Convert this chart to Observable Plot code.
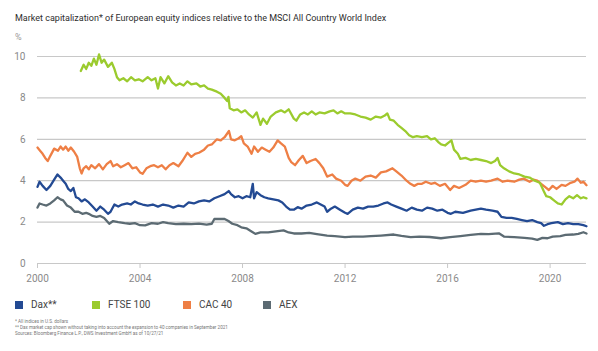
<!DOCTYPE html>
<html>
<head>
<meta charset="utf-8">
<script src="https://cdn.jsdelivr.net/npm/d3@7"></script>
<script src="https://cdn.jsdelivr.net/npm/@observablehq/plot@0.6"></script>
<style>
  html, body { margin: 0; padding: 0; background: #fff; }
  #wrap { position: relative; width: 598px; height: 351px; font-family: Roboto, "Liberation Sans", Arial, sans-serif; color: #333; }
  .abs { position: absolute; white-space: nowrap; }
  #title { left: 15px; top: 13px; font-size: 9px; color: #2e2e2e; }
  #unit { left: 15px; top: 32px; font-size: 9px; color: #999; }
  #chart { position: absolute; left: 0; top: 44px; }
  .lg { position: absolute; top: 299px; font-size: 10px; color: #444; display: flex; align-items: center; }
  .lg i { display: inline-block; width: 8px; height: 8px; margin-right: 8px; }
  .fn { left: 15px; font-size: 4.6px; color: #777; }
</style>
</head>
<body>
<div id="wrap">
  <div id="title" class="abs">Market capitalization* of European equity indices relative to the MSCI All Country World Index</div>
  <div id="unit" class="abs">%</div>
  <div id="chart"></div>
  <div id="legend"></div>
  <div class="abs fn" style="top:319px">* All indices in U.S. dollars</div>
  <div class="abs fn" style="top:325px">** Dax market cap shown without taking into account the expansion to 40 companies in September 2021</div>
  <div class="abs fn" style="top:331px">Sources: Bloomberg Finance L.P., DWS Investment GmbH as of 10/27/21</div>
</div>
<script>
const seriesNames = ["Dax**", "FTSE 100", "CAC 40", "AEX"];
const seriesColors = ["#234a93", "#9bcb2e", "#ee7f45", "#5c6b73"];
const xTicks = [2000, 2004, 2008, 2012, 2016, 2020];
const yTicks = [0, 2, 4, 6, 8, 10];

const daxYears = [2000.0,2000.08,2000.2,2000.35,2000.5,2000.65,2000.78,2000.9,2001.0,2001.1,2001.2,2001.3,2001.4,2001.5,2001.6,2001.72,2001.85,2002.0,2002.15,2002.3,2002.45,2002.6,2002.75,2002.85,2003.0,2003.15,2003.3,2003.5,2003.64,2003.8,2003.95,2004.1,2004.3,2004.5,2004.7,2004.9,2005.1,2005.3,2005.5,2005.7,2005.9,2006.1,2006.3,2006.5,2006.7,2006.9,2007.1,2007.3,2007.46,2007.55,2007.7,2007.85,2008.0,2008.15,2008.3,2008.4,2008.45,2008.55,2008.7,2008.85,2009.0,2009.2,2009.4,2009.55,2009.7,2009.85,2010.0,2010.15,2010.3,2010.5,2010.7,2010.9,2011.05,2011.2,2011.3,2011.45,2011.6,2011.8,2012.0,2012.1,2012.3,2012.5,2012.7,2012.9,2013.1,2013.3,2013.5,2013.66,2013.8,2014.0,2014.2,2014.4,2014.6,2014.8,2015.0,2015.2,2015.4,2015.6,2015.8,2016.0,2016.13,2016.3,2016.6,2016.9,2017.1,2017.3,2017.5,2017.75,2017.95,2018.1,2018.3,2018.5,2018.7,2018.9,2019.1,2019.3,2019.5,2019.65,2019.76,2019.9,2020.05,2020.3,2020.5,2020.7,2020.9,2021.1,2021.3,2021.42];
const daxValues = [3.7,3.95,3.75,3.55,3.75,4.05,4.3,4.15,4.0,3.85,3.6,3.5,3.65,3.2,3.15,3.0,3.1,2.95,2.75,2.55,2.75,2.6,2.4,2.5,2.85,2.75,2.85,2.9,2.85,3.0,2.9,2.85,2.8,2.85,2.75,2.85,2.8,2.7,2.8,2.75,2.95,2.9,3.0,3.05,3.0,3.15,3.25,3.35,3.5,3.35,3.2,3.25,3.15,3.25,3.2,3.85,3.15,3.45,3.3,3.2,3.15,3.1,3.05,2.95,2.75,2.6,2.6,2.72,2.65,2.8,2.85,2.95,2.85,2.75,2.5,2.65,2.75,2.6,2.45,2.4,2.6,2.7,2.65,2.75,2.75,2.8,2.9,2.95,2.85,2.75,2.65,2.55,2.7,2.6,2.55,2.7,2.65,2.55,2.6,2.45,2.4,2.5,2.45,2.55,2.6,2.65,2.6,2.55,2.5,2.25,2.2,2.2,2.15,2.1,2.05,2.1,2.0,1.95,1.82,1.9,1.95,2.0,1.9,1.95,1.9,1.9,1.85,1.8];

const ftseYears = [2001.69,2001.8,2001.9,2002.0,2002.1,2002.2,2002.3,2002.4,2002.5,2002.6,2002.75,2002.9,2003.0,2003.1,2003.2,2003.35,2003.5,2003.65,2003.8,2003.95,2004.1,2004.3,2004.45,2004.6,2004.7,2004.8,2004.95,2005.1,2005.25,2005.4,2005.55,2005.7,2005.85,2006.0,2006.2,2006.35,2006.5,2006.65,2006.8,2007.0,2007.15,2007.3,2007.4,2007.45,2007.5,2007.65,2007.8,2007.95,2008.1,2008.25,2008.4,2008.55,2008.7,2008.8,2008.95,2009.1,2009.3,2009.5,2009.65,2009.8,2010.0,2010.1,2010.25,2010.4,2010.55,2010.7,2010.85,2011.0,2011.2,2011.4,2011.55,2011.7,2011.85,2012.0,2012.2,2012.4,2012.6,2012.8,2013.0,2013.2,2013.4,2013.55,2013.65,2013.75,2013.9,2014.05,2014.2,2014.35,2014.5,2014.65,2014.8,2015.0,2015.2,2015.35,2015.5,2015.65,2015.75,2015.9,2016.05,2016.15,2016.25,2016.4,2016.5,2016.7,2016.9,2017.1,2017.3,2017.5,2017.7,2017.85,2017.95,2018.05,2018.2,2018.4,2018.6,2018.8,2019.0,2019.2,2019.4,2019.6,2019.75,2019.85,2020.0,2020.15,2020.3,2020.45,2020.6,2020.75,2020.9,2021.05,2021.2,2021.3,2021.42];
const ftseValues = [9.3,9.6,9.4,9.7,9.55,9.9,9.6,10.1,9.7,9.85,9.5,9.7,9.4,9.0,8.85,8.95,8.8,9.0,8.85,8.9,8.8,9.0,8.85,8.95,8.45,9.0,8.7,9.05,8.75,8.6,8.7,8.6,8.8,8.65,8.7,8.55,8.6,8.45,8.4,8.3,8.2,8.0,7.85,8.05,7.5,7.4,7.45,7.3,7.4,7.2,7.05,7.3,6.7,7.0,6.75,7.1,7.3,7.4,7.3,7.45,7.0,6.9,7.2,7.3,7.2,7.35,7.2,7.3,7.25,7.35,7.4,7.25,7.35,7.25,7.25,7.2,7.1,7.05,6.95,7.1,7.05,7.15,7.25,6.95,6.9,6.7,6.55,6.4,6.2,6.1,6.15,6.1,6.15,6.0,6.05,5.85,5.75,5.7,5.85,5.95,5.5,5.3,5.05,5.1,5.0,5.05,5.0,4.95,4.85,4.95,5.1,4.75,4.6,4.45,4.35,4.3,4.2,4.15,4.0,3.9,3.5,3.25,3.2,3.05,2.9,2.85,3.1,3.25,3.15,3.3,3.15,3.2,3.15];

const cacYears = [2000.0,2000.1,2000.2,2000.3,2000.4,2000.5,2000.65,2000.8,2000.9,2001.0,2001.1,2001.2,2001.3,2001.43,2001.55,2001.65,2001.72,2001.8,2001.9,2002.0,2002.1,2002.25,2002.4,2002.55,2002.7,2002.85,2002.95,2003.1,2003.25,2003.4,2003.55,2003.7,2003.85,2004.0,2004.1,2004.25,2004.4,2004.55,2004.7,2004.85,2005.0,2005.15,2005.3,2005.5,2005.65,2005.85,2006.0,2006.15,2006.3,2006.5,2006.65,2006.8,2007.0,2007.15,2007.3,2007.47,2007.55,2007.7,2007.85,2007.95,2008.05,2008.2,2008.35,2008.45,2008.6,2008.75,2008.9,2009.05,2009.2,2009.37,2009.5,2009.65,2009.8,2009.9,2010.05,2010.2,2010.35,2010.5,2010.65,2010.85,2011.0,2011.15,2011.3,2011.5,2011.65,2011.85,2012.0,2012.1,2012.25,2012.4,2012.6,2012.8,2013.0,2013.2,2013.4,2013.6,2013.85,2014.0,2014.2,2014.4,2014.55,2014.7,2014.85,2015.0,2015.15,2015.35,2015.5,2015.7,2015.9,2016.1,2016.25,2016.45,2016.7,2016.9,2017.1,2017.3,2017.5,2017.7,2017.95,2018.15,2018.35,2018.6,2018.8,2018.97,2019.2,2019.35,2019.5,2019.65,2019.8,2019.95,2020.1,2020.25,2020.45,2020.6,2020.8,2020.95,2021.07,2021.2,2021.3,2021.42];
const cacValues = [5.6,5.45,5.3,5.1,4.95,5.2,5.55,5.45,5.65,5.5,5.65,5.45,5.6,5.4,5.15,4.6,4.35,4.6,4.7,4.55,4.75,4.6,4.8,4.55,4.8,4.95,4.7,4.8,4.65,4.75,4.85,4.6,4.65,4.4,4.33,4.6,4.7,4.75,4.65,4.75,4.55,4.75,4.85,4.7,4.95,5.35,5.15,5.3,5.35,5.5,5.7,5.75,6.0,5.95,6.1,6.4,6.0,5.95,6.05,6.15,5.8,5.65,5.3,5.65,5.4,5.6,5.5,5.4,5.6,5.95,5.8,5.65,5.1,4.9,4.75,5.0,5.2,4.85,4.95,5.05,4.85,4.6,4.2,4.3,4.1,4.0,3.8,3.75,4.0,4.1,4.0,4.2,4.25,4.15,4.4,4.45,4.6,4.45,4.25,4.0,3.85,3.75,3.85,3.85,3.95,3.85,3.9,3.75,3.85,3.55,3.75,3.65,3.8,4.0,3.95,4.0,3.95,4.0,4.1,3.95,4.0,3.95,4.05,4.1,3.95,4.05,4.0,3.85,3.7,3.55,3.75,3.6,3.8,3.75,3.9,3.95,4.1,3.9,3.95,3.78];

const aexYears = [2000.0,2000.08,2000.2,2000.35,2000.5,2000.65,2000.78,2000.9,2001.0,2001.15,2001.3,2001.45,2001.6,2001.75,2001.9,2002.0,2002.15,2002.3,2002.45,2002.6,2002.8,2002.95,2003.15,2003.4,2003.6,2003.8,2004.0,2004.2,2004.45,2004.7,2004.9,2005.1,2005.4,2005.7,2006.0,2006.3,2006.6,2006.8,2006.9,2007.1,2007.3,2007.45,2007.6,2007.8,2007.95,2008.15,2008.35,2008.5,2008.7,2009.0,2009.3,2009.6,2009.8,2010.0,2010.3,2010.6,2010.9,2011.3,2011.6,2012.0,2012.3,2012.7,2013.0,2013.4,2013.9,2014.2,2014.56,2014.9,2015.3,2015.74,2016.1,2016.5,2016.9,2017.3,2017.6,2018.0,2018.2,2018.6,2019.0,2019.3,2019.5,2019.7,2019.9,2020.1,2020.4,2020.6,2020.9,2021.1,2021.3,2021.42];
const aexValues = [2.7,2.9,2.85,2.8,2.9,3.05,3.2,3.1,3.05,2.8,2.7,2.5,2.5,2.4,2.45,2.4,2.3,2.25,2.3,2.2,1.92,2.05,2.0,1.95,1.92,1.95,1.85,1.84,1.95,1.92,2.0,1.95,1.9,1.92,1.9,1.93,1.88,1.92,2.15,2.15,2.15,2.05,1.92,1.85,1.75,1.7,1.55,1.43,1.5,1.5,1.55,1.6,1.5,1.45,1.45,1.48,1.42,1.35,1.32,1.27,1.3,1.3,1.32,1.35,1.4,1.33,1.27,1.3,1.28,1.22,1.27,1.32,1.38,1.43,1.42,1.46,1.3,1.27,1.24,1.2,1.14,1.24,1.22,1.3,1.32,1.38,1.4,1.43,1.51,1.45];

const allYears = [daxYears, ftseYears, cacYears, aexYears];
const allValues = [daxValues, ftseValues, cacValues, aexValues];
const rows = seriesNames.flatMap((name, i) => allYears[i].map((yr, j) => ({series: name, year: yr, value: allValues[i][j]})));
const drawOrder = ["AEX", "Dax**", "CAC 40", "FTSE 100"];

const chart = Plot.plot({
  width: 598,
  height: 250,
  marginTop: 12,
  marginBottom: 31,
  marginLeft: 37,
  marginRight: 12,
  style: {fontFamily: "Roboto, 'Liberation Sans', Arial, sans-serif", background: "white"},
  x: {domain: [2000, 2021.42]},
  y: {domain: [0, 10]},
  color: {domain: seriesNames, range: seriesColors},
  marks: [
    Plot.gridY(yTicks.filter(d => d > 0), {stroke: "#c8c8c8", strokeOpacity: 1, strokeWidth: 1.2}),
    Plot.ruleY([0], {stroke: "#c8c8c8", strokeWidth: 1.2}),
    Plot.axisY(yTicks, {tickSize: 0, tickPadding: 12, fontSize: 10, fill: "#8a8a8a", label: null}),
    Plot.axisX(xTicks, {tickSize: 5, tickPadding: 6, stroke: "#c8c8c8", fontSize: 10, fill: "#8a8a8a", tickFormat: d => String(d), label: null}),
    ...drawOrder.map(name => Plot.line(rows.filter(r => r.series === name), {x: "year", y: "value", stroke: "series", strokeWidth: 2.3, strokeLinejoin: "round", curve: "linear"}))
  ]
});
document.getElementById("chart").appendChild(chart);

const legendLefts = [15, 92, 183, 263];
const legend = document.getElementById("legend");
seriesNames.forEach((name, i) => {
  const el = document.createElement("div");
  el.className = "lg";
  el.style.left = legendLefts[i] + "px";
  el.innerHTML = `<i style="background:${seriesColors[i]}"></i><span></span>`;
  el.querySelector("span").textContent = name;
  legend.appendChild(el);
});
</script>
</body>
</html>
